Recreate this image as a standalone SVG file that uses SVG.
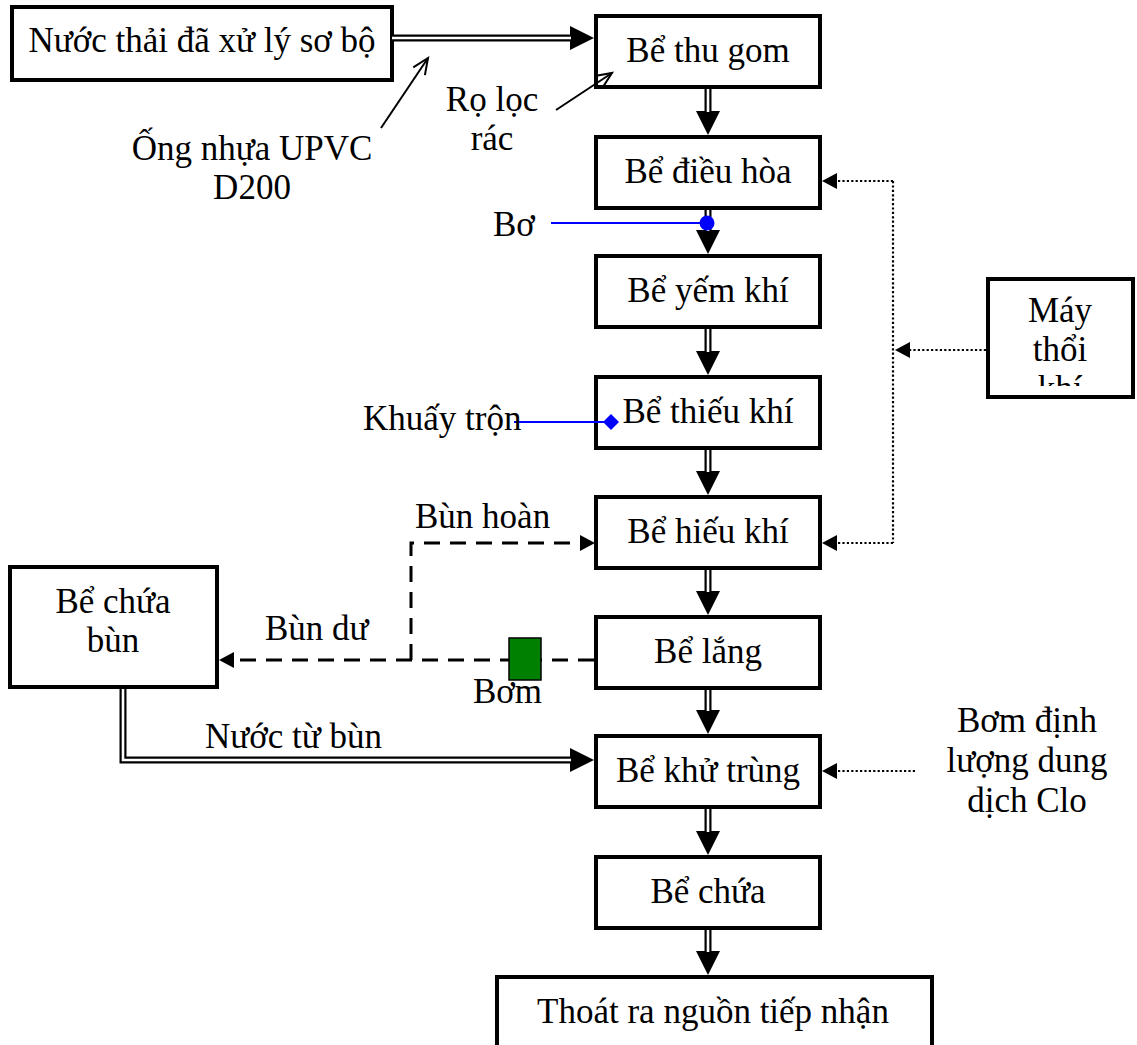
<svg xmlns="http://www.w3.org/2000/svg" width="1137" height="1045" viewBox="0 0 1137 1045">
<style>
.box{fill:#fff;stroke:#000;stroke-width:4}
.t{font-family:"Liberation Serif","Times New Roman",serif;font-size:35px;fill:#000}
.c{text-anchor:middle}
.dbl{fill:none;stroke:#000;stroke-width:7}
.dblw{fill:none;stroke:#fff;stroke-width:2.6}
.dot{fill:none;stroke:#000;stroke-width:2.2;stroke-dasharray:2.2 2.2}
.dash{fill:none;stroke:#000;stroke-width:3;stroke-dasharray:16 10}
.ptr{fill:none;stroke:#000;stroke-width:2}
.blue{stroke:#0000ff;stroke-width:2.2;fill:none}
</style>
<defs>
<marker id="big" markerUnits="userSpaceOnUse" markerWidth="24" markerHeight="24" refX="0" refY="12" orient="auto" overflow="visible">
<path d="M0,0 L24,12 L0,24 z" fill="#000"/>
</marker>
<marker id="sm" markerUnits="userSpaceOnUse" markerWidth="15" markerHeight="16" refX="0" refY="8" orient="auto" overflow="visible">
<path d="M0,0 L15,8 L0,16 z" fill="#000"/>
</marker>
<marker id="open" markerUnits="userSpaceOnUse" markerWidth="20" markerHeight="20" refX="18" refY="8" orient="auto" overflow="visible">
<path d="M2,1 L18,8 L2,15" fill="none" stroke="#000" stroke-width="2"/>
</marker>
<clipPath id="mayclip"><rect x="990" y="281" width="141" height="105"/></clipPath>
</defs>

<g id="n-input"><rect class="box" x="12" y="7" width="380" height="73"/><text class="t c" x="202" y="52">Nước thải đã xử lý sơ bộ</text></g>
<g id="n-thugom"><rect class="box" x="596" y="16" width="224" height="71"/><text class="t c" x="708" y="62">Bể thu gom</text></g>
<g id="n-dieuhoa"><rect class="box" x="596" y="137" width="224" height="71"/><text class="t c" x="708" y="183">Bể điều hòa</text></g>
<g id="n-yemkhi"><rect class="box" x="596" y="256" width="224" height="71"/><text class="t c" x="708" y="302">Bể yếm khí</text></g>
<g id="n-thieukhi"><rect class="box" x="596" y="377" width="224" height="71"/><text class="t c" x="708" y="423">Bể thiếu khí</text></g>
<g id="n-hieukhi"><rect class="box" x="596" y="497" width="224" height="71"/><text class="t c" x="708" y="543">Bể hiếu khí</text></g>
<g id="n-lang"><rect class="box" x="596" y="617" width="224" height="71"/><text class="t c" x="708" y="663">Bể lắng</text></g>
<g id="n-khutrung"><rect class="box" x="596" y="736" width="224" height="71"/><text class="t c" x="708" y="782">Bể khử trùng</text></g>
<g id="n-chua"><rect class="box" x="596" y="857" width="224" height="71"/><text class="t c" x="708" y="903">Bể chứa</text></g>
<g id="n-thoat"><rect class="box" x="497" y="977" width="435" height="80"/><text class="t c" x="713" y="1023">Thoát ra nguồn tiếp nhận</text></g>
<g id="n-chuabun"><rect class="box" x="10" y="567" width="207" height="120"/><text class="t c" x="113" y="613">Bể chứa</text><text class="t c" x="113" y="652">bùn</text></g>
<g id="n-may"><rect class="box" x="988" y="279" width="145" height="118"/><g clip-path="url(#mayclip)"><text class="t c" x="1060" y="322">Máy</text><text class="t c" x="1060" y="361">thổi</text><text class="t c" x="1060" y="400">khí</text></g></g>

<g id="connectors">
<path class="dbl" d="M392,38 H570" marker-end="url(#big)"/>
<path class="dblw" d="M392,38 H571"/>
<path class="dbl" d="M708,89 V111" marker-end="url(#big)"/>
<path class="dblw" d="M708,89 V112"/>
<path class="dbl" d="M708,210 V230" marker-end="url(#big)"/>
<path class="dblw" d="M708,210 V231"/>
<path class="dbl" d="M708,329 V351" marker-end="url(#big)"/>
<path class="dblw" d="M708,329 V352"/>
<path class="dbl" d="M708,450 V471" marker-end="url(#big)"/>
<path class="dblw" d="M708,450 V472"/>
<path class="dbl" d="M708,570 V591" marker-end="url(#big)"/>
<path class="dblw" d="M708,570 V592"/>
<path class="dbl" d="M708,690 V710" marker-end="url(#big)"/>
<path class="dblw" d="M708,690 V711"/>
<path class="dbl" d="M708,809 V831" marker-end="url(#big)"/>
<path class="dblw" d="M708,809 V832"/>
<path class="dbl" d="M708,930 V951" marker-end="url(#big)"/>
<path class="dblw" d="M708,930 V952"/>
<path class="dbl" d="M123,689 V760 H570" marker-end="url(#big)"/>
<path class="dblw" d="M123,689 V760 H571"/>
<path class="ptr" d="M381,128 L428,58" marker-end="url(#open)"/>
<path class="ptr" d="M556,110 L612,73" marker-end="url(#open)"/>
<path class="dot" d="M893,181 V543"/>
<path class="dot" d="M893,181 H837" marker-end="url(#sm)"/>
<path class="dot" d="M893,543 H837" marker-end="url(#sm)"/>
<path class="dot" d="M986,350 H910" marker-end="url(#sm)"/>
<path class="dot" d="M915,771 H837" marker-end="url(#sm)"/>
<path class="dash" d="M594,660 H234" marker-end="url(#sm)"/>
<path class="dash" d="M411,660 V543 H580" marker-end="url(#sm)"/>
<path class="blue" d="M551,223 H707"/>
<circle cx="707" cy="223" r="7.5" fill="#0000ff"/>
<path class="blue" d="M514,422 H611"/>
<polygon points="611,414 619,422 611,430 603,422" fill="#0000ff"/>
</g>

<g id="n-bom"><rect x="509" y="638" width="32" height="42" fill="#008000" stroke="#000" stroke-width="1.5"/><text class="t" x="473" y="703">Bơm</text></g>

<g id="labels">
<text class="t c" x="252" y="160">Ống nhựa UPVC</text>
<text class="t c" x="252" y="199">D200</text>
<text class="t c" x="492" y="111">Rọ lọc</text>
<text class="t c" x="492" y="150">rác</text>
<text class="t" x="493" y="236">Bơ</text>
<text class="t" x="363" y="430">Khuấy trộn</text>
<text class="t" x="415" y="528">Bùn hoàn</text>
<text class="t" x="265" y="640">Bùn dư</text>
<text class="t" x="205" y="748">Nước từ bùn</text>
<text class="t c" x="1027" y="732">Bơm định</text>
<text class="t c" x="1027" y="772">lượng dung</text>
<text class="t c" x="1027" y="812">dịch Clo</text>
</g>
</svg>
